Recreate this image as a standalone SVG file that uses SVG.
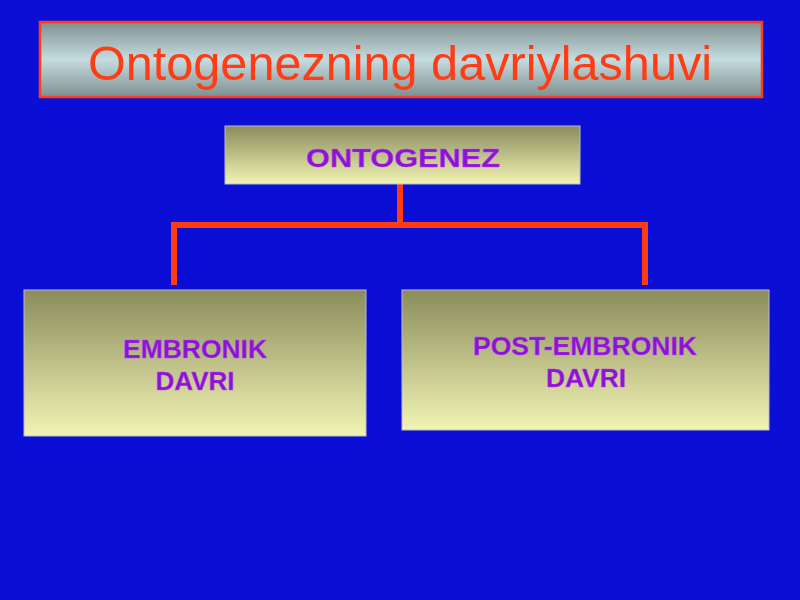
<svg xmlns="http://www.w3.org/2000/svg" width="800" height="600" viewBox="0 0 800 600">
<defs>
<linearGradient id="gTitle" x1="0" y1="0" x2="0" y2="1">
<stop offset="0" stop-color="#7f8f90"/>
<stop offset="0.5" stop-color="#c4dce0"/>
<stop offset="1" stop-color="#7f8f90"/>
</linearGradient>
<linearGradient id="gBox" x1="0" y1="0" x2="0" y2="1">
<stop offset="0" stop-color="#8a8c5c"/>
<stop offset="1" stop-color="#f2f4b4"/>
</linearGradient>
<style>
.box{fill:url(#gBox);stroke:#b8bcc8;stroke-width:1}
.lbl{font-family:"Liberation Sans",Arial,sans-serif;font-weight:bold;fill:#8a14d0;stroke:#c040ff;stroke-width:0.4;text-anchor:middle;font-size:25px}
.conn{stroke:#ff3c14;stroke-width:6;fill:none;stroke-linecap:butt}
</style>
</defs>
<rect width="800" height="600" fill="#0b0fd6"/>
<g id="title">
<rect x="40" y="22" width="722" height="75" fill="url(#gTitle)" stroke="#ff3c14" stroke-width="2.5"/>
<text x="400" y="80" font-family="'Liberation Sans',Arial,sans-serif" font-size="48" fill="#ff3c14" text-anchor="middle" textLength="624" lengthAdjust="spacingAndGlyphs">Ontogenezning davriylashuvi</text>
</g>
<g id="connectors">
<path class="conn" d="M400 184 V225 M174 225 H645 M174 222 V285 M645 222 V285"/>
</g>
<g id="ontogenez">
<rect class="box" x="225" y="126" width="355" height="58"/>
<text class="lbl" x="403" y="167" font-size="28" textLength="194" lengthAdjust="spacingAndGlyphs">ONTOGENEZ</text>
</g>
<g id="embronik">
<rect class="box" x="24" y="290" width="342" height="146"/>
<text class="lbl" x="195" y="358" textLength="144" lengthAdjust="spacingAndGlyphs">EMBRONIK</text>
<text class="lbl" x="195" y="390" textLength="79" lengthAdjust="spacingAndGlyphs">DAVRI</text>
</g>
<g id="post-embronik">
<rect class="box" x="402" y="290" width="367" height="140"/>
<text class="lbl" x="585" y="355" textLength="224" lengthAdjust="spacingAndGlyphs">POST-EMBRONIK</text>
<text class="lbl" x="586" y="387" textLength="80" lengthAdjust="spacingAndGlyphs">DAVRI</text>
</g>
</svg>
